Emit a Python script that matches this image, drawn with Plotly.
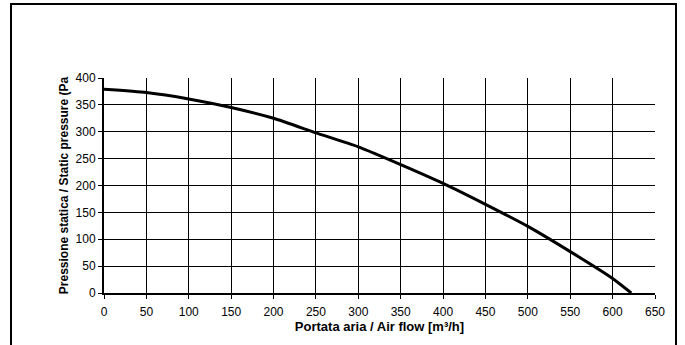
import plotly.graph_objects as go

airflow = [0, 50, 100, 150, 200, 250, 300, 350, 400, 450, 500, 550, 600, 622]
pressure = [379, 373, 361, 345, 325, 298, 272, 239, 204, 165, 124, 77, 27, 0]

x_ticks = list(range(0, 651, 50))
y_ticks = list(range(0, 401, 50))

fig = go.Figure()
fig.add_trace(go.Scatter(
    x=airflow, y=pressure, mode="lines",
    line=dict(color="black", width=3, shape="spline", smoothing=0.5),
    showlegend=False, hoverinfo="skip",
))

font = dict(family="Liberation Sans, Arial, sans-serif", size=12, color="black")

fig.update_layout(
    width=685, height=345,
    margin=dict(l=104, r=30, t=78, b=52),
    paper_bgcolor="white", plot_bgcolor="white",
    font=font,
    xaxis=dict(
        range=[0, 650], tickvals=x_ticks, ticks="outside", ticklen=4,
        tickcolor="black", showgrid=True, gridcolor="black", gridwidth=1,
        showline=True, linecolor="black", linewidth=2, zeroline=False,
        ticklabelstandoff=3,
        title=dict(text="<b>Portata aria / Air flow [m³/h]</b>", standoff=2,
                   font=dict(size=13)),
        tickfont=dict(size=12),
    ),
    yaxis=dict(
        range=[0, 400], tickvals=y_ticks, ticks="outside", ticklen=4,
        tickcolor="black", showgrid=True, gridcolor="black", gridwidth=1,
        showline=True, linecolor="black", linewidth=2, zeroline=False,
        title=dict(text="<b>Pressione statica / Static pressure (Pa</b>", standoff=4,
                   font=dict(size=12)),
        tickfont=dict(size=12),
    ),
)

# outer chart frame
fig.add_shape(type="rect", xref="paper", yref="paper",
              x0=(11 - 104) / 551, x1=(676 - 104) / 551,
              y0=-0.4, y1=(293 - 4) / 215,
              line=dict(color="black", width=2), fillcolor="rgba(0,0,0,0)",
              layer="below")

fig.write_html("out.html")
